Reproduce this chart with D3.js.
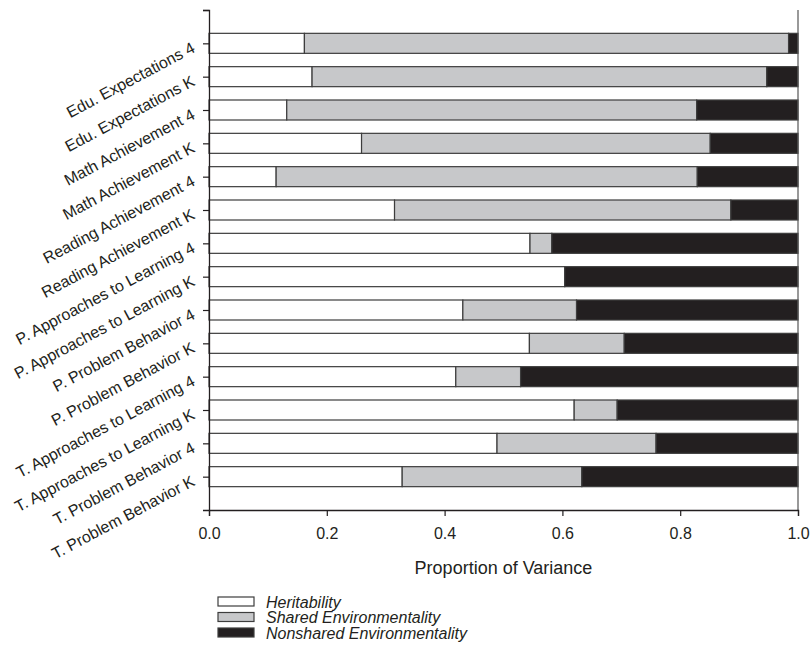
<!DOCTYPE html>
<html><head><meta charset="utf-8">
<script src="https://cdn.jsdelivr.net/npm/d3@7"></script>
<style>
body{margin:0;background:#fff;}
text{font-family:"Liberation Sans",Arial,sans-serif;fill:#231f20;}
</style></head>
<body><svg id="c" width="811" height="654"></svg>
<script>
const categories = ["Edu. Expectations 4","Edu. Expectations K","Math Achievement 4","Math Achievement K","Reading Achievement 4","Reading Achievement K","P. Approaches to Learning 4","P. Approaches to Learning K","P. Problem Behavior 4","P. Problem Behavior K","T. Approaches to Learning 4","T. Approaches to Learning K","T. Problem Behavior 4","T. Problem Behavior K"];
const heritability = [0.162,0.175,0.132,0.259,0.114,0.315,0.545,0.604,0.431,0.544,0.419,0.620,0.489,0.328];
const shared =       [0.822,0.772,0.696,0.592,0.715,0.571,0.037,0.000,0.193,0.161,0.110,0.073,0.270,0.305];
const nonshared = heritability.map((h,i)=>1-h-shared[i]);
const seriesNames = ["Heritability","Shared Environmentality","Nonshared Environmentality"];
const seriesColors = ["#ffffff","#c7c8ca","#231f20"];
const xTicks = [0,0.2,0.4,0.6,0.8,1.0];

const svg = d3.select("#c");
const x = d3.scaleLinear().domain([0,1]).range([209,798]);
const y = d3.scaleLinear().domain([0,15]).range([10,510]);
const barH = y(0.6)-y(0);

const rows = categories.map((c,i)=>({c, vals:[heritability[i],shared[i],nonshared[i]]}));
rows.forEach((r,i)=>{
  let acc=0;
  r.vals.forEach((v,k)=>{
    if(v>0.0005){
      svg.append("rect").attr("x",x(acc)).attr("y",y(i+1)-barH/2)
        .attr("width",x(acc+v)-x(acc)).attr("height",barH)
        .attr("fill",seriesColors[k]).attr("stroke","#3d3d3d").attr("stroke-width",1.2);
    }
    acc+=v;
  });
});

// y axis
const yAxis = d3.axisLeft(y).tickValues(d3.range(0,15)).tickSize(6).tickFormat("");
const gy = svg.append("g").attr("transform","translate(209,0)").call(yAxis);
gy.select(".domain").attr("stroke","#231f20").attr("stroke-width",1.3);
gy.selectAll(".tick line").attr("stroke","#231f20").attr("stroke-width",1.2);
// right border
svg.append("line").attr("x1",798).attr("x2",798).attr("y1",y(0)).attr("y2",y(15)).attr("stroke","#555").attr("stroke-width",1.2);

// category labels
categories.forEach((c,i)=>{
  svg.append("text").attr("transform",`translate(196,${y(i+1)+8}) rotate(-28)`)
    .attr("text-anchor","end").attr("font-size",16).text(c);
});

// x axis
const xAxis = d3.axisBottom(x).tickValues(xTicks).tickSize(6).tickPadding(12).tickFormat(d3.format(".1f"));
const gx = svg.append("g").attr("transform","translate(0,510)").call(xAxis);
gx.select(".domain").attr("stroke","#231f20").attr("stroke-width",1.3);
gx.selectAll(".tick line").attr("stroke","#231f20").attr("stroke-width",1.2);
gx.selectAll(".tick text").attr("font-size",16).attr("font-family","Liberation Sans, Arial, sans-serif").attr("fill","#231f20");

svg.append("text").attr("x",(x(0)+x(1))/2).attr("y",574).attr("text-anchor","middle").attr("font-size",18).text("Proportion of Variance");

// legend
seriesNames.forEach((n,k)=>{
  const yy = 597 + k*15.5;
  svg.append("rect").attr("x",218).attr("y",yy).attr("width",36).attr("height",9)
    .attr("fill",seriesColors[k]).attr("stroke","#3d3d3d").attr("stroke-width",1.2);
  svg.append("text").attr("x",266).attr("y",yy+10.5).attr("font-size",16).attr("font-style","italic").text(n);
});
</script></body></html>
